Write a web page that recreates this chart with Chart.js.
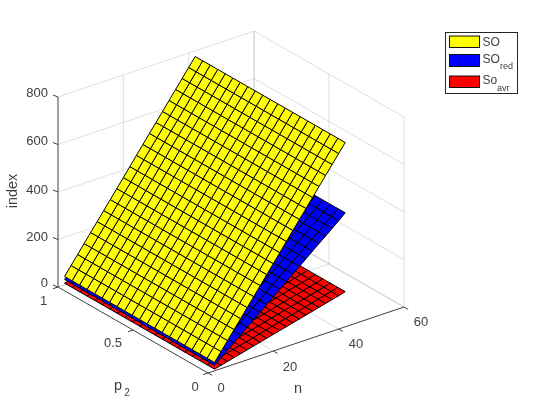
<!DOCTYPE html>
<html>
<head>
<meta charset="utf-8">
<style>html,body{margin:0;padding:0;background:#fff}canvas{display:block}</style>
<script src="https://cdn.jsdelivr.net/npm/chart.js@4/dist/chart.umd.min.js"></script>
</head>
<body>
<canvas id="c" width="560" height="420"></canvas>
<script>
// ---- data ----
const nValues = [2,4,6,8,10,12,14,16,18,20,22,24,26,28,30,32,34,36,38,40,42];
const p2Values = [0,0.05,0.1,0.15,0.2,0.25,0.3,0.35,0.4,0.45,0.5,0.55,0.6,0.65,0.7,0.75,0.8,0.85,0.9,0.95,1];
const soIndex = [35,72,109,146,183,220,257,294,331,368,405,443,480,517,554,591,628,665,702,739,776];
const soRedIndex = [23,46,68,91,114,137,160,182,205,228,251,274,296,319,342,365,388,410,433,456,480];
const soAvrIndex = [7,14,21,28,35,42,49,56,63,70,77,84,91,98,105,112,119,126,133,140,148];
const nTicks = [0,20,40,60];
const p2Ticks = [0,0.5,1];
const zTicks = [0,200,400,600,800];

// ---- oblique view of the box ----
const view = {ox:208, oy:373, nx:3.267, ny:-1.1, px:-150, py:-86, zy:-0.2375};
const nMax = 60, zMax = 800;
const project = (n,p,z) => ({x: view.ox + n*view.nx + p*view.px, y: view.oy + n*view.ny + p*view.py + z*view.zy});

const datasets = [];
function seg(a,b,color,width){
  datasets.push({data:[a,b],showLine:true,pointRadius:0,borderColor:color,borderWidth:width,fill:false,clip:false});
}
const GRID = 'rgba(38,38,38,0.15)', AXIS = '#404040';

// back walls and floor grid
zTicks.forEach(z=>{
  seg(project(0,1,z),project(nMax,1,z),GRID,1);
  seg(project(nMax,1,z),project(nMax,0,z),GRID,1);
});
nTicks.forEach(n=>{
  if(n>0){ seg(project(n,1,0),project(n,1,zMax),GRID,1); seg(project(n,0,0),project(n,1,0),GRID,1); }
});
p2Ticks.forEach(p=>{
  seg(project(nMax,p,0),project(nMax,p,zMax),GRID,1);
  if(p>0) seg(project(0,p,0),project(nMax,p,0),GRID,1);
});

// axes and tick marks
seg(project(0,0,0),project(nMax,0,0),AXIS,1);
seg(project(0,0,0),project(0,1,0),AXIS,1);
seg(project(0,1,0),project(0,1,zMax),AXIS,1);
const off = (pt,dx,dy)=>({x:pt.x+dx,y:pt.y+dy});
nTicks.forEach(n=>{const a=project(n,0,0); seg(a,off(a,4.2,2.4),AXIS,1);});
p2Ticks.forEach(p=>{const a=project(0,p,0); seg(a,off(a,-5,1.7),AXIS,1);});
zTicks.forEach(z=>{const a=project(0,1,z); seg(a,off(a,-5,-2),AXIS,1);});

// surfaces, lowest first
function surface(values,color){
  for(let i=0;i<nValues.length-1;i++){
    for(let j=0;j<p2Values.length-1;j++){
      const q=[project(nValues[i],p2Values[j],values[i]),
               project(nValues[i+1],p2Values[j],values[i+1]),
               project(nValues[i+1],p2Values[j+1],values[i+1]),
               project(nValues[i],p2Values[j+1],values[i]),
               project(nValues[i],p2Values[j],values[i])];
      datasets.push({data:q,showLine:true,pointRadius:0,borderColor:'#000',borderWidth:1,
                     backgroundColor:color,fill:'shape',clip:false});
    }
  }
}
surface(soAvrIndex,'#ff0000');
surface(soRedIndex,'#0000ff');
surface(soIndex,'#ffff00');
datasets.forEach((d,i)=>{d.order=-i;});

// ---- text and legend ----
const FONT='"Liberation Sans", Arial, sans-serif';
const INK='#404040';
const nLabels=[[0,221,388],[20,290,367],[40,356,344],[60,421,322]];
const p2Labels=[['0',195,387],['0.5',113,343],['1',43.5,301]];
const zLabels=[['800',93],['600',141.5],['400',190],['200',237],['0',283.5]];
const legendEntries=[
  {color:'#ffff00',top:36,bottom:47.5,text:'SO',textY:43,sub:'',subX:0,subY:0},
  {color:'#0000ff',top:54.5,bottom:66.5,text:'SO',textY:60,sub:'red',subX:500,subY:67},
  {color:'#ff0000',top:76,bottom:87.5,text:'So',textY:81,sub:'avr',subX:497,subY:89}
];
const overlay={
  id:'overlay',
  afterDraw(chart){
    const c=chart.ctx;
    c.save();
    c.fillStyle=INK;
    c.textBaseline='middle';
    c.font='13px '+FONT;
    c.textAlign='center';
    nLabels.forEach(l=>c.fillText(String(l[0]),l[1],l[2]));
    p2Labels.forEach(l=>c.fillText(l[0],l[1],l[2]));
    c.textAlign='right';
    zLabels.forEach(l=>c.fillText(l[0],48,l[1]));
    c.textAlign='center';
    c.font='14.5px '+FONT;
    c.fillText('n',298,389);
    c.fillText('p',118,386);
    c.font='10px '+FONT;
    c.fillText('2',127,393);
    c.save();
    c.font='14.5px '+FONT;
    c.translate(13,191);
    c.rotate(-Math.PI/2);
    c.fillText('index',0,0);
    c.restore();
    // legend
    c.fillStyle='#fff';
    c.strokeStyle='#262626';
    c.lineWidth=1;
    c.fillRect(445.5,32.5,72,61);
    c.strokeRect(445.5,32.5,72,61);
    legendEntries.forEach(e=>{
      c.fillStyle=e.color;
      c.strokeStyle='#111';
      c.fillRect(449.5,e.top,30,e.bottom-e.top);
      c.strokeRect(449.5,e.top,30,e.bottom-e.top);
      c.fillStyle=INK;
      c.textAlign='left';
      c.font='12px '+FONT;
      c.fillText(e.text,482.5,e.textY);
      if(e.sub){c.font='9px '+FONT;c.fillText(e.sub,e.subX,e.subY);}
    });
    c.restore();
  }
};

new Chart(document.getElementById('c'),{
  type:'scatter',
  data:{datasets},
  options:{
    responsive:false,animation:false,
    layout:{padding:0},
    plugins:{legend:{display:false},tooltip:{enabled:false}},
    events:[],
    scales:{
      x:{type:'linear',min:0,max:560,display:false},
      y:{type:'linear',min:0,max:420,reverse:true,display:false}
    }
  },
  plugins:[overlay]
});
</script>
</body>
</html>
